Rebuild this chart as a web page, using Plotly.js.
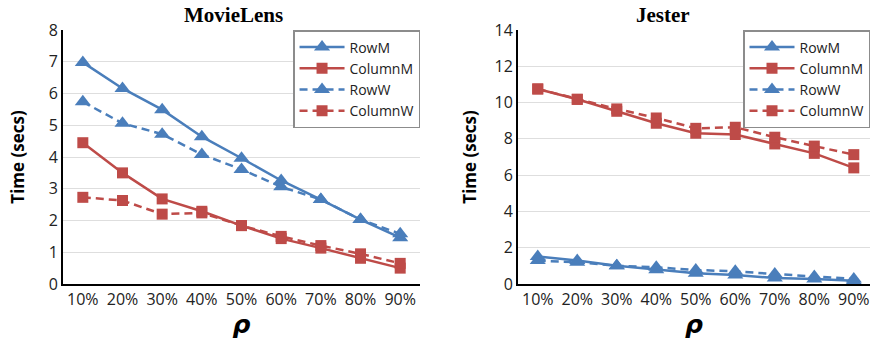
<!DOCTYPE html>
<html>
<head>
<meta charset="utf-8">
<script src="https://cdn.plot.ly/plotly-3.0.1.min.js"></script>
<style>html,body{margin:0;padding:0;background:#fff;}#chart{width:870px;height:342px;}</style>
</head>
<body>
<div id="chart"></div>
<script>
const categories = ["10%","20%","30%","40%","50%","60%","70%","80%","90%"];

// MovieLens
const mlRowM    = [6.98, 6.16, 5.49, 4.64, 3.96, 3.26, 2.66, 2.03, 1.46];
const mlColumnM = [4.45, 3.50, 2.68, 2.29, 1.84, 1.43, 1.13, 0.81, 0.50];
const mlRowW    = [5.74, 5.06, 4.72, 4.08, 3.61, 3.06, 2.66, 2.03, 1.58];
const mlColumnW = [2.73, 2.63, 2.20, 2.24, 1.84, 1.50, 1.21, 0.95, 0.65];

// Jester
const jRowM    = [1.51, 1.29, 1.01, 0.79, 0.59, 0.50, 0.33, 0.28, 0.18];
const jColumnM = [10.75, 10.18, 9.52, 8.86, 8.31, 8.24, 7.72, 7.20, 6.40];
const jRowW    = [1.29, 1.20, 1.01, 0.92, 0.77, 0.70, 0.55, 0.42, 0.28];
const jColumnW = [10.75, 10.18, 9.65, 9.15, 8.58, 8.64, 8.09, 7.60, 7.13];

const seriesNames = ["RowM", "ColumnM", "RowW", "ColumnW"];

const BLUE = "#4A7EBB", RED = "#BE4B48";
const styles = [
  {color: BLUE, dash: "solid", symbol: "triangle-up", size: 14},
  {color: RED,  dash: "solid", symbol: "square", size: 11},
  {color: BLUE, dash: "8px,5px", symbol: "triangle-up", size: 14},
  {color: RED,  dash: "8px,5px", symbol: "square", size: 11}
];

function mk(vals, i, xa, ya, leg) {
  const s = styles[i];
  return {
    x: categories, y: vals, name: seriesNames[i],
    xaxis: xa, yaxis: ya, legend: leg,
    type: "scatter", mode: "lines+markers",
    line: {color: s.color, width: 2.5, dash: s.dash},
    marker: {color: s.color, symbol: s.symbol, size: s.size}
  };
}

const data = [
  mk(mlRowM, 0, "x", "y", "legend"),
  mk(mlColumnM, 1, "x", "y", "legend"),
  mk(mlRowW, 2, "x", "y", "legend"),
  mk(mlColumnW, 3, "x", "y", "legend"),
  mk(jRowM, 0, "x2", "y2", "legend2"),
  mk(jColumnM, 1, "x2", "y2", "legend2"),
  mk(jRowW, 2, "x2", "y2", "legend2"),
  mk(jColumnW, 3, "x2", "y2", "legend2")
];

const tickFont = {family: "Open Sans, sans-serif", size: 16, color: "#222"};
const xBase = {
  type: "category", categoryorder: "array", categoryarray: categories,
  showline: true, linecolor: "#000", linewidth: 2, showgrid: false,
  ticks: "", tickfont: tickFont, zeroline: false,
  title: {text: "<b><i>ρ</i></b>", font: {family: "DejaVu Sans, sans-serif", size: 25, color: "#000"}, standoff: 6}
};
const yBase = {
  showline: true, linecolor: "#000", linewidth: 2,
  showgrid: true, gridcolor: "#DEDEDE", gridwidth: 1,
  zeroline: false, ticks: "", tickfont: tickFont,
  title: {text: "<b>Time (secs)</b>", font: {family: "Open Sans, sans-serif", size: 17, color: "#000"}}
};

const legBase = {
  bgcolor: "#fff", bordercolor: "#8C8C8C", borderwidth: 1.5,
  font: {family: "Open Sans, sans-serif", size: 14, color: "#222"},
  itemwidth: 45, tracegroupgap: 0,
  xanchor: "right", yanchor: "top", y: 1.0
};

const layout = {
  width: 870, height: 342,
  margin: {l: 0, r: 0, t: 30, b: 58},
  paper_bgcolor: "#fff", plot_bgcolor: "#fff",
  showlegend: true,
  xaxis: Object.assign({}, xBase, {domain: [0.0724, 0.4828], range: [-0.5, 8.5], anchor: "y"}),
  yaxis: Object.assign({}, yBase, {range: [0, 8], dtick: 1, anchor: "x",
    title: Object.assign({}, yBase.title, {standoff: 20})}),
  xaxis2: Object.assign({}, xBase, {domain: [0.5954, 1.0], range: [-0.5, 8.41], anchor: "y2"}),
  yaxis2: Object.assign({}, yBase, {range: [0, 14], dtick: 2, anchor: "x2",
    title: Object.assign({}, yBase.title, {standoff: 14})}),
  legend: Object.assign({}, legBase, {x: 0.4828}),
  legend2: Object.assign({}, legBase, {x: 1.0}),
  annotations: [
    {text: "<b>MovieLens</b>", xref: "paper", yref: "paper", x: 0.268, y: 1, yshift: 15,
     xanchor: "center", yanchor: "middle", showarrow: false,
     font: {family: "Liberation Serif, serif", size: 21, color: "#000"}},
    {text: "<b>Jester</b>", xref: "paper", yref: "paper", x: 0.762, y: 1, yshift: 15,
     xanchor: "center", yanchor: "middle", showarrow: false,
     font: {family: "Liberation Serif, serif", size: 21, color: "#000"}}
  ]
};

Plotly.newPlot("chart", data, layout, {displayModeBar: false, staticPlot: true});
</script>
</body>
</html>
